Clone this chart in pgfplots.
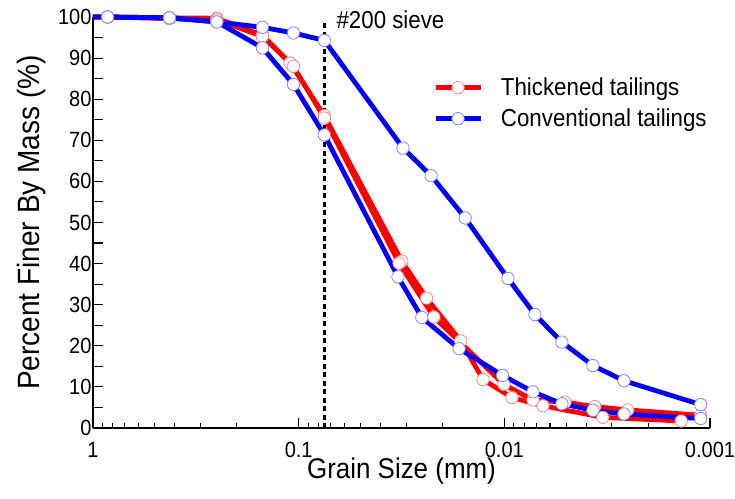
\documentclass[border=0pt]{standalone}
\usepackage{fontspec}
\setmainfont{Liberation Sans}[FakeStretch=0.91]
\usepackage{pgfplots}
\pgfplotsset{compat=1.18}
\definecolor{mred}{RGB}{255,0,0}
\definecolor{mblue}{RGB}{0,0,255}
\definecolor{mredE}{RGB}{255,130,130}
\definecolor{mblueE}{RGB}{130,130,255}
\begin{document}
\begin{tikzpicture}
\begin{axis}[
  at={(0,0)}, anchor=south west,
  width=617bp, height=411bp, scale only axis,
  xmode=log, x dir=reverse,
  xmin=0.001, xmax=1, ymin=0, ymax=100,
  axis x line*=bottom, axis y line*=left,
  axis line style={-, line width=1.3bp, black},
  tick align=inside,
  tick style={black, line width=1.1bp},
  xtick={1,0.1,0.01,0.001}, xticklabels={1,0.1,0.01,0.001},
  minor xtick={0.002,0.003,0.004,0.005,0.006,0.007,0.008,0.009,0.02,0.03,0.04,0.05,0.06,0.07,0.08,0.09,0.2,0.3,0.4,0.5,0.6,0.7,0.8,0.9},
  ytick={0,10,...,100},
  extra y ticks={5,15,...,95}, extra y tick labels={},
  major tick length=10bp, minor tick length=5bp,
  /pgf/number format/assume math mode=true,
  tick label style={font=\fontsize{22bp}{26bp}\selectfont},
  xticklabel style={yshift=-11bp},
  yticklabel style={xshift=2bp},
  xlabel={Grain Size (mm)},
  ylabel={Percent Finer By Mass (\%)},
  every axis x label/.style={at={(axis description cs:0.5,-0.1240)}, anchor=base, font=\fontsize{28.5bp}{33bp}\selectfont},
  every axis y label/.style={at={(axis description cs:-0.0859,0.5)}, anchor=base, rotate=90, font=\fontsize{30.8bp}{35bp}\selectfont},
  clip=false,
  legend style={draw=none, fill=none, at={(axis description cs:0.551,0.8516)}, anchor=north west,
    inner sep=0pt, font=\fontsize{24.5bp}{29bp}\selectfont,
    nodes={inner sep=0pt, text depth=5bp, text height=17bp},
    row sep=9bp, column sep=18bp},
  legend cell align=left,
  legend image code/.code={\draw[mark repeat=2,mark phase=2] plot coordinates {(0bp,1.5bp) (22.5bp,1.5bp) (45bp,1.5bp)};},
  every axis plot/.append style={line width=4.8bp, line join=round},
]
% Thickened tailings (two tests)
\addplot[mred, mark=*, mark phase=2, mark size=6.2bp, mark options={fill=white, draw=mredE, line width=0.8bp, solid}]
  coordinates {(1,100) (0.85,100) (0.425,99.8) (0.25,99.7) (0.15,95.6) (0.110,88.8) (0.075,76.0)
  (0.0315,40.6) (0.0239,31.6) (0.0163,21.2) (0.0127,11.8) (0.00918,7.4) (0.00649,5.4) (0.00332,2.6) (0.00138,1.7)};
\addlegendentry{Thickened tailings}
\addplot[mred, mark=*, mark phase=2, mark size=6.2bp, mark options={fill=white, draw=mredE, line width=0.8bp, solid}, forget plot]
  coordinates {(1,100) (0.85,100) (0.425,99.6) (0.25,99.3) (0.15,95.3) (0.106,88.0) (0.075,75.4)
  (0.0325,40.1) (0.0220,27.0) (0.01005,10.6) (0.00726,6.8) (0.00507,6.3) (0.00363,5.2) (0.00251,4.4) (0.00111,3.1)};
% Conventional tailings (two tests)
\addplot[mblue, mark=*, mark phase=2, mark size=6.2bp, mark options={fill=white, draw=mblueE, line width=0.8bp, solid}]
  coordinates {(1,100) (0.85,100) (0.425,99.8) (0.25,98.8) (0.15,97.5) (0.106,96.1) (0.075,94.3)
  (0.0311,68.1) (0.0227,61.4) (0.0155,51.1) (0.00961,36.4) (0.0071,27.6) (0.00525,20.9) (0.00371,15.2) (0.00262,11.5) (0.00111,5.7)};
\addlegendentry{Conventional tailings}
\addplot[mblue, mark=*, mark phase=2, mark size=6.2bp, mark options={fill=white, draw=mblueE, line width=0.8bp, solid}, forget plot]
  coordinates {(1,100) (0.85,100) (0.425,99.8) (0.25,98.8) (0.15,92.5) (0.106,83.6) (0.075,71.3)
  (0.0329,36.8) (0.0252,26.9) (0.0166,19.3) (0.0102,12.8) (0.00726,8.8) (0.00525,5.9) (0.00371,4.3) (0.00262,3.4) (0.00111,2.3)};
% #200 sieve
\addplot[black, line width=2.5bp, dash pattern=on 5bp off 3.5bp, forget plot] coordinates {(0.075,0) (0.075,98.8)};
\node[anchor=west, inner sep=0pt, xshift=12bp, font=\fontsize{24.5bp}{29bp}\selectfont] at (axis cs:0.075,99.3) {\#200 sieve};
\end{axis}
\pgfresetboundingbox
\path (-93bp,-71bp) rectangle (642bp,428bp);
\end{tikzpicture}
\end{document}
